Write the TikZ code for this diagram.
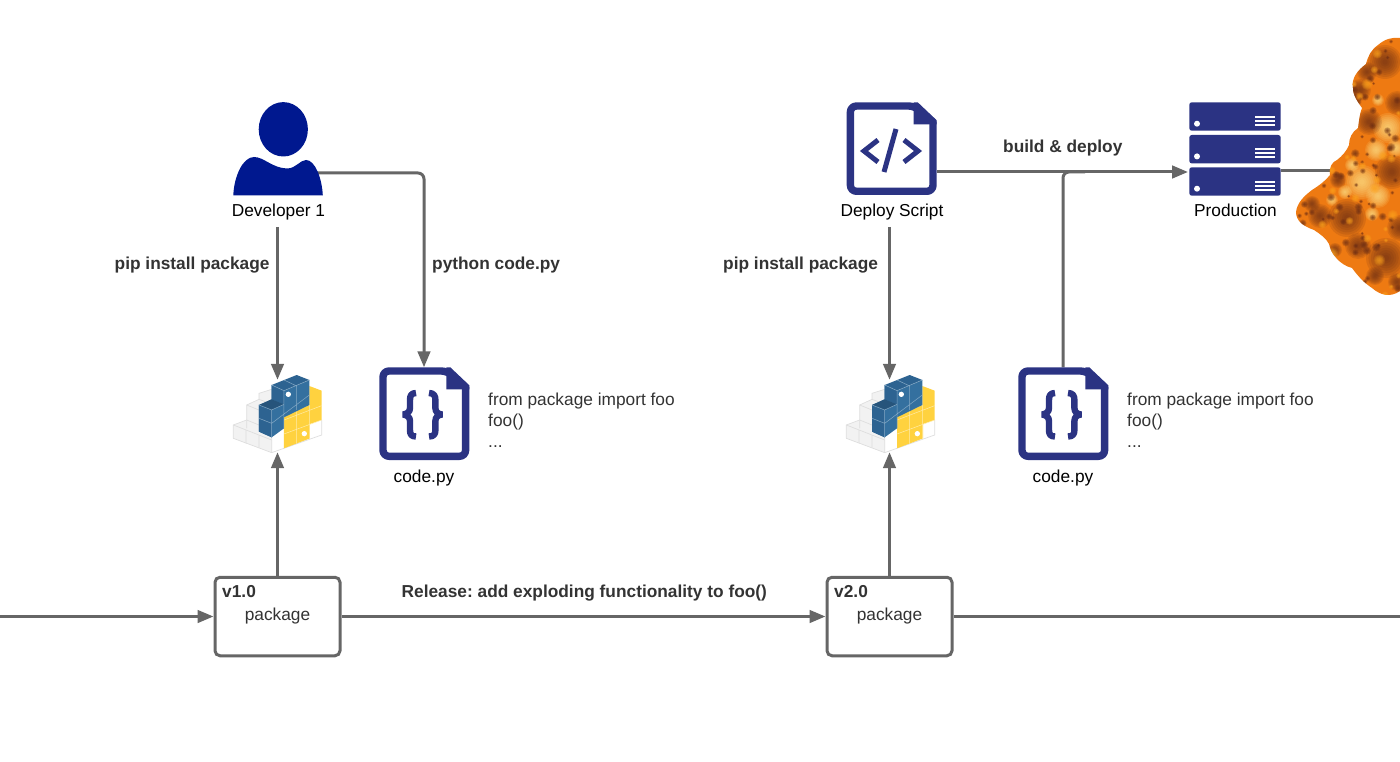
\documentclass[tikz,border=0pt]{standalone}
\usepackage{fontspec}
\setmainfont{Liberation Sans}
\frenchspacing
\usetikzlibrary{arrows.meta,calc}
\definecolor{wire}{HTML}{666666}
\definecolor{navy}{HTML}{2B3383}
\definecolor{person}{HTML}{00188F}
\definecolor{ink}{HTML}{333333}
\definecolor{pyblue}{HTML}{34709F}
\definecolor{pytop}{HTML}{2D6391}
\definecolor{pyyellow}{HTML}{FFD23F}
\definecolor{fireA}{HTML}{EE7A12}
\definecolor{fireD}{HTML}{6B2E12}
\definecolor{fireL}{HTML}{FFE38A}
\definecolor{fireM}{HTML}{FFA51E}
\newcommand{\softspot}[4]{%
  \foreach \ff in {1,.88,.76,.64,.52,.4,.28,.16}{\fill[#1,opacity=.15] (#2,#3) circle ({#4*\ff});}}
\tikzset{
  wireline/.style={draw=wire,line width=3pt},
  arrowline/.style={wireline,-{Triangle[length=16pt,width=12.5pt]}},
  pkgbox/.style={draw=wire,line width=3pt,rounded corners=5pt,minimum width=125pt,minimum height=78.5pt,inner sep=0pt,fill=white},
  iconbox/.style={inner sep=0pt,minimum width=90pt,minimum height=93pt},
  logobox/.style={inner sep=0pt,minimum width=90pt,minimum height=72pt},
  lbl/.style={inner sep=0pt,text=black,font=\fontsize{17.3}{19}\selectfont,anchor=base},
  note/.style={inner sep=0pt,text=ink,font=\fontsize{17.3}{19}\selectfont,anchor=base west},
  strong/.style={inner sep=0pt,text=ink,font=\bfseries\fontsize{17.3}{19}\selectfont,anchor=base west},
  pics/docicon/.style={code={
    \draw[navy,line width=7.4pt,line join=round,rounded corners=6pt]
      (3.7,3.7) -- (68,3.7) [sharp corners] -- (86.3,20) [rounded corners=6pt] -- (86.3,89) -- (3.7,89) -- cycle;
    \fill[navy] (67,0) -- (71,0) -- (90,18) -- (90,22) -- (67,22) -- cycle;
  }},
  pics/rack/.style={code={
    \fill[navy,rounded corners=2.5pt] (0,0) rectangle (91.4,28.4);
    \fill[white] (7.7,21.4) circle (3);
    \foreach \yy in {14.4,18.4,22.4} \draw[white,line width=1.8pt] (65.7,\yy) -- (85.7,\yy);
  }},
}
\newcommand{\PyLogoDraw}[2]{%
\begin{scope}[shift={(#1,#2)},x=0.3333pt,y=-0.3333pt,line join=round]
  % pale cubes
  \fill[white] (185,240) -- (335,180) -- (335,225) -- (185,278) -- cycle;
  \draw[draw=black!13,fill=black!5,line width=.7pt] (70,195) -- (110,180) -- (110,135) -- (147,118) -- (147,100) -- (185,88) -- (185,278) -- (70,235) -- cycle;
  \draw[black!13,line width=.7pt] (108,210) -- (108,250) (147,225) -- (147,263) (70,195) -- (185,240) (110,180) -- (147,195) (110,135) -- (147,150) (147,118) -- (185,132) (110,180) -- (110,205);
  \draw[black!13,line width=.7pt] (185,278) -- (335,225) -- (335,180);
  % yellow
  \fill[pyyellow] (222,170) -- (298,135) -- (298,78) -- (335,92) -- (335,180) -- (300,192) -- (300,235) -- (222,265) -- cycle;
  \draw[white!55!pyyellow,line width=.5pt] (222,222) -- (335,180) (260,155) -- (260,250) (298,135) -- (298,238) (222,180) -- (335,137);
  \fill[white] (283,221) circle (8);
  % blue faces
  \fill[pyblue] (185,75) -- (222,92) -- (298,60) -- (298,135) -- (222,172) -- (222,205) -- (185,232) -- (147,215) -- (147,135) -- (185,118) -- cycle;
  \fill[pytop] (185,75) -- (222,92) -- (222,133) -- (185,118) -- cycle;
  \fill[pytop] (147,135) -- (185,150) -- (185,232) -- (147,215) -- cycle;
  \fill[pytop] (185,75) -- (260,45) -- (298,60) -- (222,92) -- cycle;
  \fill[pytop!85!black] (147,135) -- (185,118) -- (222,133) -- (185,150) -- cycle;
  \draw[white!40!pyblue,line width=.5pt] (185,75) -- (222,92) -- (298,60) (222,60) -- (260,78) (260,78) -- (260,150) (222,92) -- (222,205) (185,150) -- (185,232) (147,135) -- (185,150) -- (222,133) (147,175) -- (185,190) -- (298,105);
  \fill[white] (235,103) circle (8);
\end{scope}}
\begin{document}
\begin{tikzpicture}[x=1pt,y=-1pt]
\useasboundingbox (0,0) rectangle (1400,762);
% anchor nodes
\coordinate (in) at (0,616.5);
\coordinate (out) at (1400,616.5);
\coordinate (devout) at (317,173);
\coordinate (deployout) at (937,172);
\coordinate (prodin) at (1188,172);
\coordinate (prodout) at (1281,171);
\coordinate (boom) at (1335,171);
\node[logobox] (logoA) at (277.5,416) {};
\node[logobox] (logoB) at (889.5,416) {};
\node[iconbox] (codeA) at (424,414) {};
\node[iconbox] (codeB) at (1063,414) {};
\node[pkgbox] (pkgA) at (277.5,616.5) {};
\node[pkgbox] (pkgB) at (889.5,616.5) {};
\coordinate (devlab) at (277.5,227);
\coordinate (deplab) at (889.5,227);
% connectors
\draw[arrowline] (in) -- (pkgA.west);
\draw[arrowline] (pkgA.east) -- (pkgB.west);
\draw[wireline] (pkgB.east) -- (out);
\draw[arrowline] (pkgA.north) -- (logoA.south);
\draw[arrowline] (pkgB.north) -- (logoB.south);
\draw[arrowline] (devlab) -- (logoA.north);
\draw[arrowline] (deplab) -- (logoB.north);
\draw[arrowline,rounded corners=6pt] (devout) -| (codeA.north);
\draw[arrowline] (deployout) -- (prodin);
\draw[wireline,rounded corners=6pt] (codeB.north) |- (1085,172);
\draw[wireline] (prodout) -- (boom);
% person
\fill[person] (283.3,129.3) ellipse (24.6 and 27.2);
\fill[person] (233.3,195.5) .. controls (234,176) and (243,157) .. (254,157)
  .. controls (264,157) and (272,168) .. (287,168.5)
  .. controls (296,168.5) and (300,160) .. (306,160)
  .. controls (315,160) and (322,178) .. (322.8,195.5) -- cycle;
% documents
\pic at (846.7,102.3) {docicon};
\pic at (379.3,367.3) {docicon};
\pic at (1018.3,367.3) {docicon};
\draw[navy,line width=5pt,line join=miter] (878,140) -- (864,151) -- (878,162);
\draw[navy,line width=5pt,line join=miter] (904,140) -- (918,151) -- (904,162);
\draw[navy,line width=5pt] (896,129) -- (884,172);
\foreach \ox in {0,639}{
  \begin{scope}[xshift=\ox pt]
  \draw[navy,line width=6.4pt,line join=bevel] (416,393) .. controls (411,393) and (410,396) .. (410,400) -- (410,408) .. controls (410,412) and (407,414) .. (403,414.5)
     .. controls (407,415) and (410,417) .. (410,421) -- (410,430) .. controls (410,434) and (411,436.5) .. (416,436.5);
  \draw[navy,line width=6.4pt,line join=bevel] (429,393) .. controls (434,393) and (435.4,396) .. (435.4,400) -- (435.4,408) .. controls (435.4,412) and (438,414) .. (442,414.5)
     .. controls (438,415) and (435.4,417) .. (435.4,421) -- (435.4,430) .. controls (435.4,434) and (434,436.5) .. (429,436.5);
  \end{scope}}
% servers
\pic at (1189.3,102.3) {rack};
\pic at (1189.3,135) {rack};
\pic at (1189.3,167.3) {rack};
% python logos
\PyLogoDraw{210}{360}
\PyLogoDraw{823}{360}
% explosion
\begin{scope}
\path[clip] (1400,38) .. controls (1392,37) and (1385,39) .. (1378,45) .. controls (1371,50) and (1368,56) .. (1366,64)
  .. controls (1358,70) and (1351,78) .. (1353,88) .. controls (1353,96) and (1358,102) .. (1362,108)
  .. controls (1359,116) and (1359,122) .. (1358,128) .. controls (1352,132) and (1349,138) .. (1349,145)
  .. controls (1346,152) and (1342,156) .. (1337,160) .. controls (1332,162) and (1329,167) .. (1330,175)
  .. controls (1326,180) and (1320,185) .. (1312,190) .. controls (1304,196) and (1297,203) .. (1296,212)
  .. controls (1296,221) and (1303,226) .. (1314,230) .. controls (1320,234) and (1326,238) .. (1329,244)
  .. controls (1331,254) and (1340,265) .. (1352,268) .. controls (1358,276) and (1363,282) .. (1372,288)
  .. controls (1380,295) and (1390,298) .. (1400,291) -- cycle;
\fill[fireA] (1290,30) rectangle (1400,300);
% bright seams
\foreach \px/\py/\pr in {1388/128/15,1362/182/17,1378/196/12,1376/150/11,1396/148/9,1352/165/7,1332/200/6,1372/214/7,1378/100/6,1345/192/7}{
  \softspot{fireL}{\px}{\py}{\pr}
}
% dark puffs
\foreach \px/\py/\pr in {1385/62/17,1360/90/11,1397/103/12,1369/122/13,1392/172/17,1347/218/19,1358/246/13,1386/258/20,1320/216/12,1338/180/8,1400/228/13,1367/72/10,1335/250/7,1312/204/8,1375/276/9,1397/282/9}{
  \softspot{fireD}{\px}{\py}{\pr}
}
\pgfmathsetseed{11}
\foreach \i in {1,...,120}{
  \pgfmathsetmacro{\sx}{1298+rnd*102}
  \pgfmathsetmacro{\sy}{40+rnd*255}
  \pgfmathsetmacro{\sr}{1.5+rnd*3}
  \softspot{fireD}{\sx}{\sy}{\sr}
}
\foreach \i in {1,...,60}{
  \pgfmathsetmacro{\sx}{1298+rnd*102}
  \pgfmathsetmacro{\sy}{40+rnd*255}
  \pgfmathsetmacro{\sr}{2+rnd*4}
  \softspot{fireM}{\sx}{\sy}{\sr}
}
\end{scope}
% texts
\node[lbl] (t1) at (278.5,217) {Developer 1};
\node[lbl] (t2) at (892,217) {Deploy Script};
\node[lbl] (t3) at (1235.5,217) {Production};
\node[lbl] (t4) at (424,482) {code.py};
\node[lbl] (t5) at (1063,482) {code.py};
\node[strong] (t6) at (114.5,269.5) {pip install package};
\node[strong] (t7) at (723,269.5) {pip install package};
\node[strong] (t8) at (432,269.5) {python code.py};
\node[strong] (t9) at (1003,152.5) {build \& deploy};
\node[strong] (t10) at (401.5,597) {Release: add exploding functionality to foo()};
\node[note] (t11) at (488,405) {from package import foo};
\node[note] (t12) at (488,426) {foo()};
\node[note] (t13) at (488,447) {...};
\node[note] (t14) at (1127,405) {from package import foo};
\node[note] (t15) at (1127,426) {foo()};
\node[note] (t16) at (1127,447) {...};
\node[strong] (t17) at (222,597) {v1.0};
\node[strong] (t18) at (834,597) {v2.0};
\node[note,anchor=base] (t19) at (277.5,620) {package};
\node[note,anchor=base] (t20) at (889.5,620) {package};
\end{tikzpicture}
\end{document}
